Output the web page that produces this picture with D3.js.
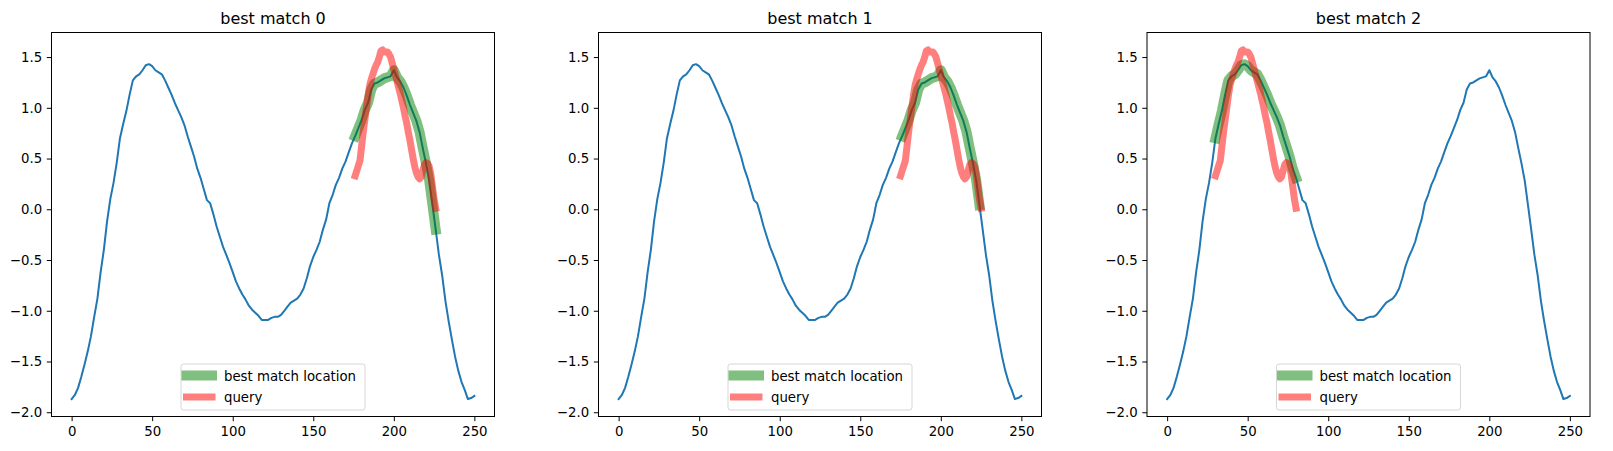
<!DOCTYPE html>
<html>
<head>
<meta charset="utf-8">
<script src="https://cdn.jsdelivr.net/npm/d3@7/dist/d3.min.js"></script>
<style>
    body { margin: 0; background: #ffffff; }
    svg text { font-family: "DejaVu Sans", sans-serif; fill: #000000; }
</style>
</head>
<body>
<div id="vis"></div>
<script>
// time series (index, value)
const seriesX = [0,2,4,6,8,10,12,14,16,18,20,22,24,26,28,30,32,34,36,38,40,42,44,46,48,50,
    52,54,56,58,60,62,64,66,68,70,72,74,76,78,80,82,84,86,88,90,92,94,96,98,100,
    102,104,106,108,110,112,114,116,118,120,122,124,126,128,130,132,134,136,138,140,
    142,144,146,148,150,152,154,156,158,160,162,164,166,168,170,172,174,176,178,180,
    182,184,186,188,190,192,194,196,198,200,202,204,206,208,210,212,214,216,218,220,
    222,224,226,228,230,232,234,236,238,240,242,244,246,248,250];
const seriesY = [-1.87,-1.83,-1.76,-1.65,-1.53,-1.40,-1.25,-1.06,-0.88,-0.62,-0.40,-0.12,0.10,0.26,0.46,0.70,0.84,0.97,1.13,1.27,1.31,1.33,1.37,1.42,1.43,1.41,
    1.37,1.35,1.33,1.27,1.20,1.13,1.05,0.98,0.91,0.83,0.72,0.62,0.52,0.40,0.31,0.20,0.09,0.06,-0.05,-0.17,-0.27,-0.37,-0.45,-0.53,-0.62,
    -0.71,-0.78,-0.84,-0.89,-0.95,-0.99,-1.02,-1.05,-1.09,-1.09,-1.09,-1.07,-1.06,-1.06,-1.04,-1.00,-0.96,-0.92,-0.90,-0.88,
    -0.84,-0.78,-0.68,-0.56,-0.47,-0.40,-0.32,-0.20,-0.10,0.06,0.14,0.24,0.31,0.40,0.47,0.56,0.65,0.72,0.80,0.88,
    0.98,1.05,1.18,1.24,1.25,1.27,1.29,1.30,1.31,1.37,1.30,1.26,1.20,1.12,1.03,0.95,0.87,0.76,0.60,0.45,
    0.28,0.04,-0.20,-0.45,-0.65,-0.90,-1.10,-1.28,-1.45,-1.59,-1.70,-1.78,-1.87,-1.86,-1.84];

// query values, offsets 0..50 from the match location
const queryY = [0.33,0.38,0.43,0.48,0.62,0.76,0.88,1.00,1.12,1.22,1.28,1.33,1.38,1.42,1.45,1.50,1.56,1.57,1.55,1.55,
    1.55,1.53,1.50,1.44,1.38,1.32,1.26,1.20,1.14,1.07,1.00,0.92,0.85,0.76,0.68,0.59,0.50,0.42,0.36,0.32,
    0.30,0.32,0.38,0.44,0.46,0.45,0.42,0.34,0.22,0.10,0.01];

const matchLocs = [176, 175, 30];
const panelTitles = ["best match 0", "best match 1", "best match 2"];
const xTicks = [0, 50, 100, 150, 200, 250];
const yTicks = [-2.0, -1.5, -1.0, -0.5, 0.0, 0.5, 1.0, 1.5];
const legendLabels = ["best match location", "query"];

const width = 1613, height = 451;

class matchPanel {
    constructor(svg, left, top, w, h) {
        this.g = svg.append("g").attr("transform", "translate(" + left + "," + top + ")");
        this.w = w;
        this.h = h;
        let lo = d3.min(seriesY.concat(queryY)), hi = d3.max(seriesY.concat(queryY));
        let pad = (hi - lo) * 0.05;
        let xPad = (d3.max(seriesX) - d3.min(seriesX)) * 0.05;
        this.x = d3.scaleLinear().domain([d3.min(seriesX) - xPad, d3.max(seriesX) + xPad]).range([0, w]);
        this.y = d3.scaleLinear().domain([lo - pad, hi + pad]).range([h, 0]);
        this.line = d3.line().x(d => this.x(d[0])).y(d => this.y(d[1]));
    }

    draw(title, loc) {
        let g = this.g;
        let series = seriesX.map((v, i) => [v, seriesY[i]]);
        let match = series.filter(d => d[0] >= loc && d[0] <= loc + queryY.length - 1);
        let query = queryY.map((v, i) => [loc + i, v]);

        g.append("path").datum(series)
            .attr("d", this.line).attr("fill", "none")
            .attr("stroke", "#1f77b4").attr("stroke-width", 2)
            .attr("stroke-linejoin", "round").attr("stroke-linecap", "square");
        g.append("path").datum(match)
            .attr("d", this.line).attr("fill", "none")
            .attr("stroke", "#008000").attr("stroke-opacity", 0.5).attr("stroke-width", 10)
            .attr("stroke-linejoin", "round").attr("stroke-linecap", "square");
        g.append("path").datum(query)
            .attr("d", this.line).attr("fill", "none")
            .attr("stroke", "#ff0000").attr("stroke-opacity", 0.5).attr("stroke-width", 7)
            .attr("stroke-linejoin", "round").attr("stroke-linecap", "square");

        let xAxis = g.append("g").attr("transform", "translate(0," + this.h + ")")
            .call(d3.axisBottom(this.x).tickValues(xTicks).tickSize(4.7).tickPadding(5).tickFormat(d3.format("d")));
        let yAxis = g.append("g")
            .call(d3.axisLeft(this.y).tickValues(yTicks).tickSize(4.7).tickPadding(4.7).tickFormat(d3.format(".1f")));
        [xAxis, yAxis].forEach(a => {
            a.select(".domain").remove();
            a.selectAll("line").attr("stroke", "#000").attr("stroke-width", 1);
            a.selectAll("text").style("font-family", "DejaVu Sans").style("font-size", "13.3px").attr("fill", "#000");
        });

        g.append("rect").attr("width", this.w).attr("height", this.h)
            .attr("fill", "none").attr("stroke", "#000").attr("stroke-width", 1);

        g.append("text").attr("x", this.w / 2).attr("y", -9)
            .attr("text-anchor", "middle").style("font-size", "16px").text(title);

        // legend, lower center
        let lw = 184, lh = 46;
        let lg = g.append("g").attr("transform", "translate(" + (this.w / 2 - lw / 2) + "," + (this.h - 6.5 - lh) + ")");
        lg.append("rect").attr("width", lw).attr("height", lh).attr("rx", 2.5)
            .attr("fill", "#ffffff").attr("fill-opacity", 0.8).attr("stroke", "#d6d6d6").attr("stroke-width", 1);
        let styles = [["#008000", 10], ["#ff0000", 7]];
        legendLabels.forEach((lab, i) => {
            let cy = 11.5 + i * 21.5;
            lg.append("line").attr("x1", 5.5).attr("x2", 31).attr("y1", cy).attr("y2", cy)
                .attr("stroke", styles[i][0]).attr("stroke-opacity", 0.5).attr("stroke-width", styles[i][1])
                .attr("stroke-linecap", "square");
            lg.append("text").attr("x", 43).attr("y", cy + 5).style("font-size", "13.3px").text(lab);
        });
    }
}

const svg = d3.select("#vis").append("svg").attr("width", width).attr("height", height)
    .style("background", "#ffffff");

const panelLefts = [51.5, 598.5, 1147];
panelTitles.forEach((t, i) => {
    let p = new matchPanel(svg, panelLefts[i], 32.5, 443, 384);
    p.draw(t, matchLocs[i]);
});
</script>
</body>
</html>
